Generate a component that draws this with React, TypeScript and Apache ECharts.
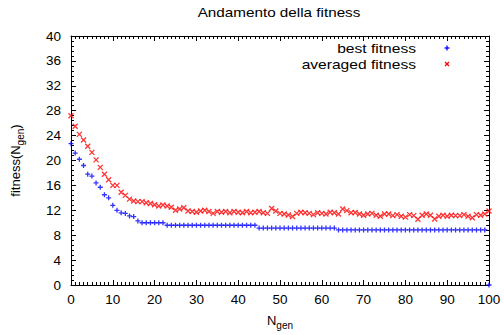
import React, { useEffect, useRef } from "react";
import * as echarts from "echarts";

const titleText = "Andamento della fitness";
const seriesNames = ["best fitness", "averaged fitness"];

// best fitness per generation (gen 0..100)
const bestFitness = [
  22.7, 21.2, 20.2, 19.2, 17.8, 17.5, 16.4, 15.7, 14.5, 14.0,
  12.8, 12.0, 11.6, 11.5, 11.1, 11.0, 10.3, 10.0, 10.0, 10.0,
  10.0, 10.0, 10.0, 9.6, 9.6, 9.6, 9.6, 9.6, 9.6, 9.6,
  9.6, 9.6, 9.6, 9.6, 9.6, 9.6, 9.6, 9.6, 9.6, 9.6,
  9.6, 9.6, 9.6, 9.6, 9.6, 9.15, 9.15, 9.15, 9.15, 9.15,
  9.15, 9.15, 9.15, 9.15, 9.15, 9.15, 9.15, 9.15, 9.15, 9.15,
  9.15, 9.15, 9.15, 9.15, 8.85, 8.85, 8.85, 8.85, 8.85, 8.85,
  8.85, 8.85, 8.85, 8.85, 8.85, 8.85, 8.85, 8.85, 8.85, 8.85,
  8.85, 8.85, 8.85, 8.85, 8.85, 8.85, 8.85, 8.85, 8.85, 8.85,
  8.85, 8.85, 8.85, 8.85, 8.85, 8.85, 8.85, 8.85, 8.85, 8.85,
  0,
];

// averaged fitness per generation (gen 0..100)
const avgFitness = [
  27.2, 25.5, 24.2, 23.3, 22.3, 21.3, 20.1, 18.9, 17.8, 16.9,
  16.0, 16.0, 14.9, 14.4, 13.8, 13.5, 13.4, 13.4, 13.2, 13.1,
  12.9, 12.7, 12.85, 12.7, 12.5, 12.0, 12.2, 12.4, 11.9, 11.8,
  11.7, 11.9, 12.0, 11.8, 11.5, 11.8, 11.7, 11.8, 11.6, 11.8,
  11.7, 11.6, 11.8, 11.6, 11.7, 11.8, 11.6, 11.5, 12.3, 11.9,
  11.5, 11.4, 11.25, 11.0, 11.5, 11.7, 11.6, 11.5, 11.3, 11.6,
  11.5, 11.4, 11.7, 11.6, 11.4, 12.2, 11.95, 11.6, 11.65, 11.4,
  11.2, 11.4, 11.5, 11.2, 11.05, 11.4, 11.4, 11.15, 11.3, 11.05,
  10.9, 11.3, 11.15, 10.55, 11.2, 11.4, 11.2, 10.6, 11.05, 11.2,
  11.05, 11.2, 11.15, 11.15, 11.3, 11.05, 10.8, 11.3, 11.2, 11.4,
  11.9,
];

const FONT = "Liberation Sans, Arial, Helvetica, sans-serif";
const BLUE = "#0000ff";
const RED = "#ff0000";
const PLUS = "path://M5,0L5,10M0,5L10,5";
const CROSS = "path://M0,0L10,10M10,0L0,10";

const toPairs = (arr: number[]) => arr.map((v, i) => [i, v]);

function axisCommon(showLabel: boolean) {
  return {
    axisLine: { show: true, onZero: false, lineStyle: { color: "#000", width: 1 } },
    axisTick: { show: true, inside: true, length: 5, lineStyle: { color: "#000", width: 1 } },
    minorTick: { show: true, splitNumber: 5, length: 3, lineStyle: { color: "#000", width: 1 } },
    splitLine: { show: false },
    axisLabel: { show: showLabel, color: "#000", fontSize: 13.5, fontFamily: FONT },
  };
}

export default function App() {
  const ref = useRef<HTMLDivElement>(null);
  useEffect(() => {
    if (!ref.current) return;
    const chart = echarts.init(ref.current, null, { renderer: "svg" });
    const xBase = (pos: string, show: boolean) => {
      const c: any = axisCommon(show);
      c.minorTick.splitNumber = 10;
      c.axisLabel.margin = 7;
      return { type: "value", min: 0, max: 100, interval: 10, position: pos, ...c };
    };
    const yBase = (pos: string, show: boolean) => {
      const c: any = axisCommon(show);
      c.axisLabel.margin = 10;
      return { type: "value", min: 0, max: 40, interval: 4, position: pos, ...c };
    };
    const richName = {
      a: { fontSize: 13, fontFamily: FONT, color: "#000", lineHeight: 20 },
      s: { fontSize: 10, fontFamily: FONT, color: "#000", lineHeight: 10, verticalAlign: "bottom" },
    };
    chart.setOption({
      animation: false,
      backgroundColor: "#fff",
      textStyle: { fontFamily: FONT },
      grid: { left: 71, right: 15, top: 36, bottom: 50, containLabel: false, outerBoundsMode: "none" },
      xAxis: [
        {
          ...xBase("bottom", true),
          name: "{a|N}{s|gen}",
          nameLocation: "middle",
          nameGap: 25,
          nameTextStyle: { rich: richName },
        },
        xBase("top", false),
      ],
      yAxis: [
        {
          ...yBase("left", true),
          name: "{a|fitness(N}{s|gen}{a|)}",
          nameLocation: "middle",
          nameGap: 46,
          nameRotate: 90,
          nameTextStyle: { rich: richName },
        },
        yBase("right", false),
      ],
      series: [
        {
          name: seriesNames[0],
          type: "scatter",
          xAxisIndex: 0,
          yAxisIndex: 0,
          data: toPairs(bestFitness),
          symbol: PLUS,
          symbolSize: 5,
          clip: false,
          itemStyle: { color: BLUE, borderColor: BLUE, borderWidth: 1.3 },
          emphasis: { disabled: true },
        },
        {
          name: seriesNames[1],
          type: "scatter",
          xAxisIndex: 0,
          yAxisIndex: 0,
          data: toPairs(avgFitness),
          symbol: CROSS,
          symbolSize: 5,
          clip: false,
          itemStyle: { color: RED, borderColor: RED, borderWidth: 1.3 },
          emphasis: { disabled: true },
        },
      ],
      graphic: [
        {
          type: "text",
          x: 279,
          y: 13,
          scaleX: 1.22,
          style: { text: titleText, fontSize: 12.5, fontFamily: FONT, fill: "#000", align: "center", verticalAlign: "middle" },
        },
        {
          type: "text",
          x: 416,
          y: 48,
          scaleX: 1.2,
          style: { text: seriesNames[0], fontSize: 13, fontFamily: FONT, fill: "#000", align: "right", verticalAlign: "middle" },
        },
        {
          type: "text",
          x: 416,
          y: 64,
          scaleX: 1.2,
          style: { text: seriesNames[1], fontSize: 13, fontFamily: FONT, fill: "#000", align: "right", verticalAlign: "middle" },
        },
        { type: "line", shape: { x1: 444.5, y1: 48, x2: 449.5, y2: 48 }, style: { stroke: BLUE, lineWidth: 1.3 } },
        { type: "line", shape: { x1: 447, y1: 45.5, x2: 447, y2: 50.5 }, style: { stroke: BLUE, lineWidth: 1.3 } },
        { type: "line", shape: { x1: 445, y1: 62, x2: 449, y2: 66 }, style: { stroke: RED, lineWidth: 1.3 } },
        { type: "line", shape: { x1: 449, y1: 62, x2: 445, y2: 66 }, style: { stroke: RED, lineWidth: 1.3 } },
      ],
    });
    return () => chart.dispose();
  }, []);
  return <div ref={ref} style={{ width: 504, height: 335, position: "absolute", left: 0, top: 0 }} />;
}
